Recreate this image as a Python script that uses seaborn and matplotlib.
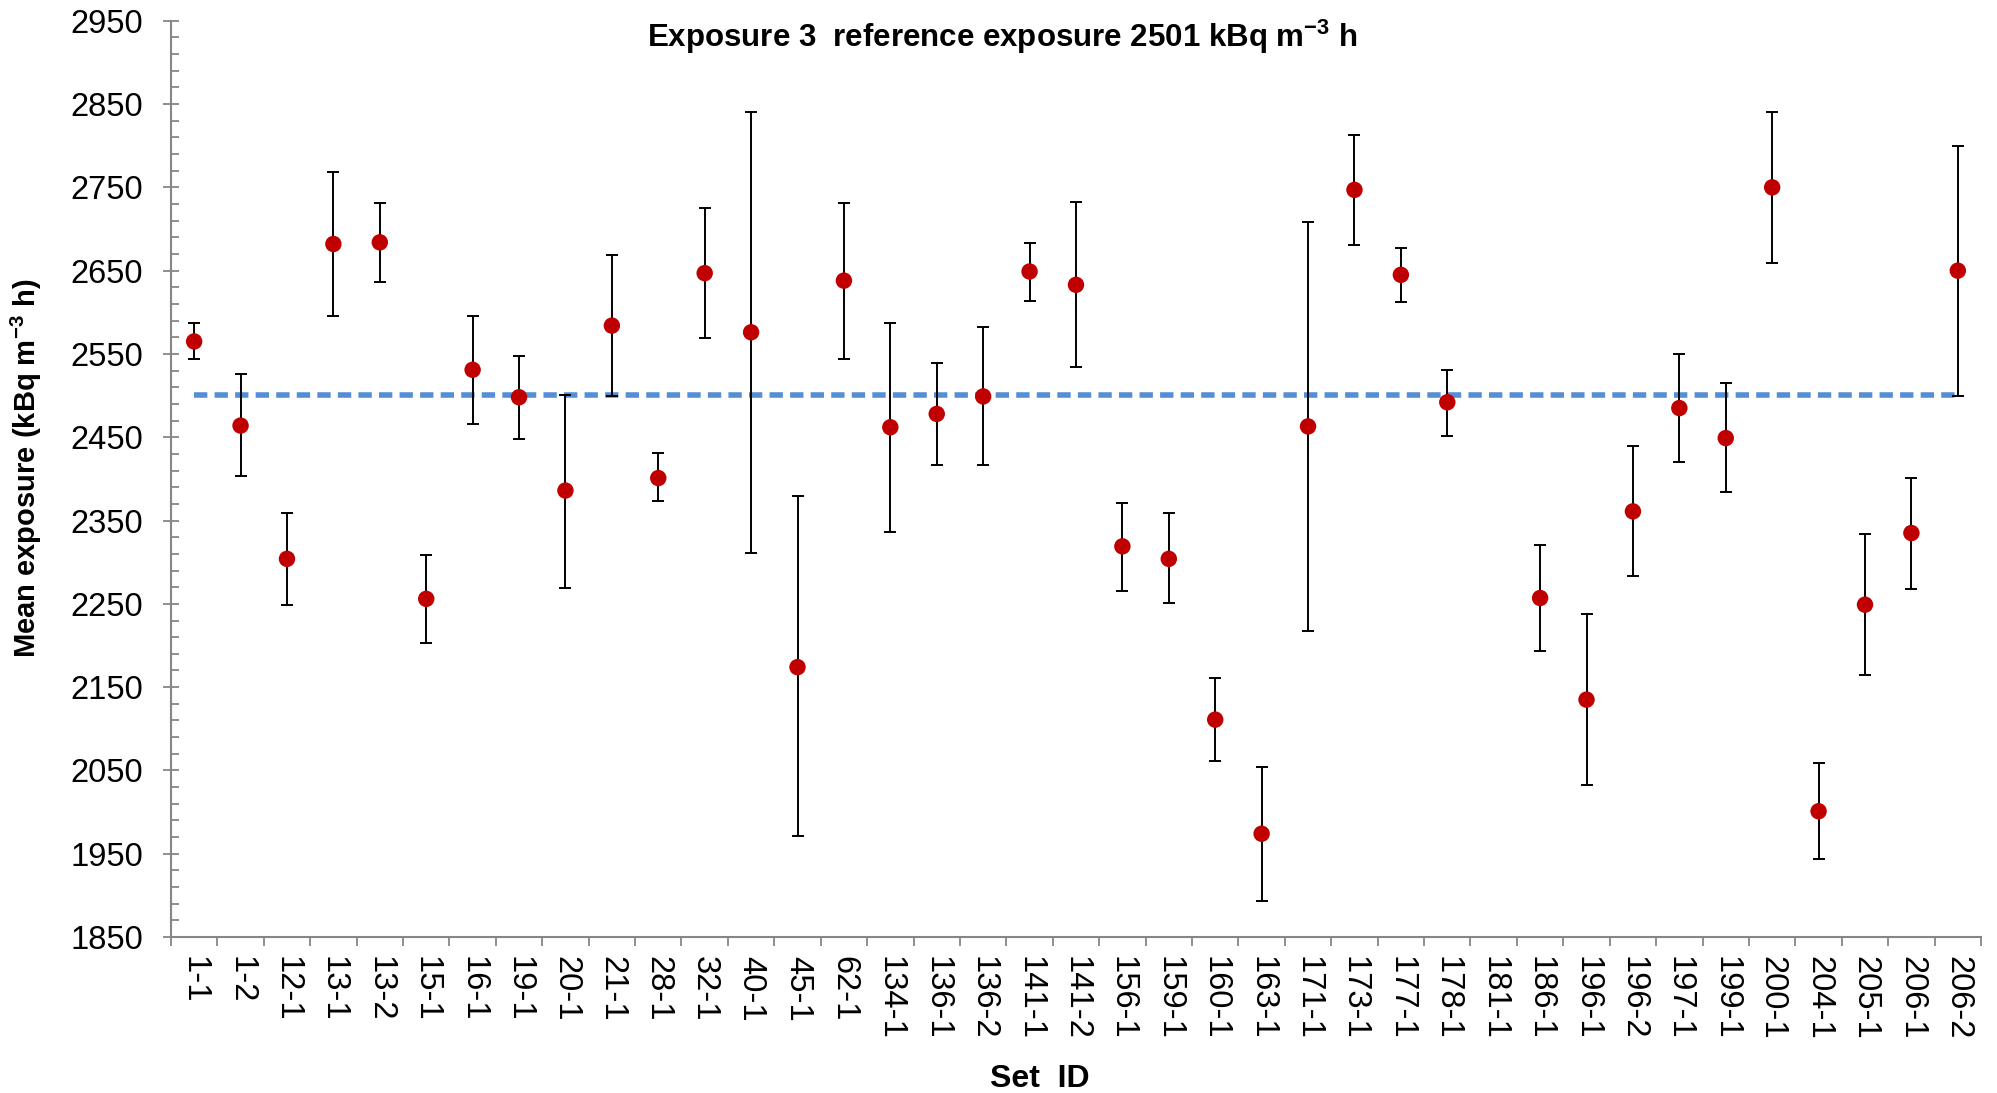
import numpy as np
import pandas as pd
import matplotlib
matplotlib.use("Agg")
import matplotlib.pyplot as plt
import seaborn as sns
from matplotlib.ticker import FixedLocator

# ---------------- data ----------------
set_ids = ["1-1", "1-2", "12-1", "13-1", "13-2", "15-1", "16-1", "19-1", "20-1", "21-1",
           "28-1", "32-1", "40-1", "45-1", "62-1", "134-1", "136-1", "136-2", "141-1", "141-2",
           "156-1", "159-1", "160-1", "163-1", "171-1", "173-1", "177-1", "178-1", "181-1", "186-1",
           "196-1", "196-2", "197-1", "199-1", "200-1", "204-1", "205-1", "206-1", "206-2"]
mean_exposure = [2565, 2464, 2304, 2682, 2684, 2256, 2531, 2498, 2386, 2584,
                 2401, 2647, 2576, 2174, 2638, 2462, 2478, 2499, 2649, 2633,
                 2319, 2304, 2111, 1974, 2463, 2747, 2645, 2492, np.nan, 2257,
                 2135, 2361, 2485, 2449, 2750, 2001, 2249, 2335, 2650]
lower_bound = [2544, 2403, 2249, 2595, 2636, 2203, 2466, 2448, 2269, 2500,
               2373, 2569, 2311, 1971, 2544, 2336, 2417, 2417, 2614, 2534,
               2266, 2251, 2061, 1893, 2217, 2681, 2612, 2452, np.nan, 2193,
               2033, 2283, 2420, 2384, 2659, 1944, 2165, 2268, 2500]
upper_bound = [2587, 2526, 2359, 2768, 2731, 2309, 2596, 2548, 2501, 2669,
               2431, 2725, 2841, 2380, 2731, 2587, 2539, 2582, 2683, 2732,
               2371, 2359, 2161, 2054, 2708, 2813, 2677, 2531, np.nan, 2321,
               2238, 2439, 2550, 2515, 2841, 2059, 2334, 2401, 2800]
reference_exposure = 2501
y_ticks = list(range(1850, 2951, 100))

# ---------------- style ----------------
sns.set_theme(style="white")
plt.rcParams['font.family'] = ['Liberation Sans', 'DejaVu Sans']
plt.rcParams['mathtext.fontset'] = 'custom'
plt.rcParams['mathtext.rm'] = 'Liberation Sans'
plt.rcParams['mathtext.bf'] = 'Liberation Sans:bold'

df = pd.DataFrame({
    "pos": np.arange(len(set_ids)),
    "set": set_ids,
    "mean": mean_exposure,
    "lo": lower_bound,
    "hi": upper_bound,
})
df["ref"] = reference_exposure

fig = plt.figure(figsize=(19.97, 10.93), dpi=100)
ax = fig.add_axes([0.0856, 0.1427, 0.9064, 0.8383])

# reference line
sns.lineplot(data=df, x="pos", y="ref", ax=ax, color="#558ED5", lw=4.0,
             linestyle=(0, (2.4, 1.3)), dash_capstyle="butt", zorder=1)

# error bars
ax.errorbar(df["pos"], df["mean"], yerr=[df["mean"] - df["lo"], df["hi"] - df["mean"]],
            fmt="none", ecolor="black", elinewidth=1.4, capsize=4.5, capthick=1.4, zorder=2)

# points
sns.scatterplot(data=df, x="pos", y="mean", ax=ax, color="#C00000", s=140,
                edgecolor="none", linewidth=0, zorder=3)

# ---------------- axes ----------------
n = len(set_ids)
ax.set_xlim(-0.5, n - 0.5)
ax.set_ylim(1850, 2950)
ax.set_xticks(np.arange(n))
ax.set_xticklabels(set_ids, rotation=-90, ha="center", va="top")
ax.xaxis.set_minor_locator(FixedLocator(np.arange(-0.5, n, 1.0)))
ax.yaxis.set_major_locator(FixedLocator(y_ticks))
ax.yaxis.set_minor_locator(FixedLocator([v for v in range(1850, 2951, 20) if (v - 1850) % 100]))

gray = "#868686"
for side in ["top", "right"]:
    ax.spines[side].set_visible(False)
for side in ["left", "bottom"]:
    ax.spines[side].set_color(gray)
    ax.spines[side].set_linewidth(1.5)

ax.tick_params(axis="x", which="major", length=0, pad=14, labelsize=23.5, labelcolor="black")
ax.tick_params(axis="x", which="minor", direction="out", length=6.5, width=1.3, color=gray, bottom=True)
ax.tick_params(axis="y", which="major", direction="inout", length=11, width=1.3, color=gray,
               pad=14.5, labelsize=23.5, labelcolor="black", left=True)
ax.tick_params(axis="y", which="minor", direction="in", length=5.5, width=1.3, color=gray, left=True)

ax.set_xlabel("Set  ID", fontsize=23, fontweight="bold", color="black")
ax.xaxis.set_label_coords(0.48, -0.155)
ax.xaxis.label.set_va("center")
ax.set_ylabel("Mean exposure (kBq m$^{\\mathbf{-3}}$ h)", fontsize=21, fontweight="bold", color="black")
ax.yaxis.set_label_coords(-0.080, 0.512)
ax.yaxis.label.set_va("center")

fig.text(0.502, 0.966, "Exposure 3  reference exposure 2501 kBq m$^{\\mathbf{-3}}$ h",
         ha="center", va="center", fontsize=22.5, fontweight="bold", color="black")

fig.savefig("out.png", dpi=100)
